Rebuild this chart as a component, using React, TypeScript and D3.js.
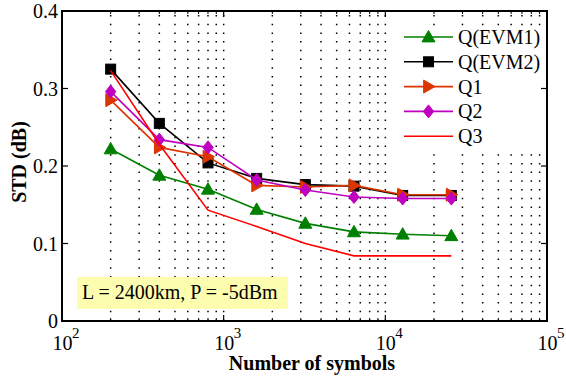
import React from "react";
import * as d3 from "d3";

const xValues = [200, 400, 800, 1600, 3200, 6400, 12800, 25600];
const evm1 = [0.222, 0.188, 0.170, 0.144, 0.126, 0.115, 0.112, 0.110];
const evm2 = [0.325, 0.255, 0.204, 0.184, 0.176, 0.174, 0.162, 0.162];
const q1 = [0.285, 0.224, 0.212, 0.175, 0.173, 0.175, 0.163, 0.163];
const q2 = [0.296, 0.234, 0.224, 0.182, 0.169, 0.160, 0.158, 0.158];
const q3 = [0.323, 0.228, 0.143, 0.122, 0.100, 0.084, 0.084, 0.084];

const seriesNames = ["Q(EVM1)", "Q(EVM2)", "Q1", "Q2", "Q3"];
const yTicks = [0, 0.1, 0.2, 0.3, 0.4];
const yTickLabels = ["0", "0.1", "0.2", "0.3", "0.4"];
const xDecades = [100, 1000, 10000, 100000];
const xDecadeExp = ["2", "3", "4", "5"];
const annotation = "L = 2400km, P = -5dBm";
const xLabel = "Number of symbols";
const yLabel = "STD (dB)";

const FONT = "Liberation Serif, Times New Roman, serif";
const TS: React.CSSProperties = { fontFamily: FONT };

type Series = { name: string; values: number[]; color: string; marker: string };

const series: Series[] = [
  { name: seriesNames[0], values: evm1, color: "#008000", marker: "triUp" },
  { name: seriesNames[1], values: evm2, color: "#000000", marker: "square" },
  { name: seriesNames[2], values: q1, color: "#dd3500", marker: "triRight" },
  { name: seriesNames[3], values: q2, color: "#c000c0", marker: "diamond" },
  { name: seriesNames[4], values: q3, color: "#ff0000", marker: "none" },
];

function Marker({ kind, x, y, color }: { kind: string; x: number; y: number; color: string }) {
  if (kind === "triUp") {
    const s = 6.5;
    return <path d={`M${x},${y - s} L${x + s},${y + s * 0.75} L${x - s},${y + s * 0.75} Z`} fill={color} stroke={color} strokeWidth={1} />;
  }
  if (kind === "triRight") {
    const s = 6.5;
    return <path d={`M${x + s},${y} L${x - s * 0.75},${y + s} L${x - s * 0.75},${y - s} Z`} fill={color} stroke={color} strokeWidth={1} />;
  }
  if (kind === "square") {
    const s = 5;
    return <rect x={x - s} y={y - s} width={2 * s} height={2 * s} fill={color} stroke={color} strokeWidth={1} />;
  }
  if (kind === "diamond") {
    const s = 6.5;
    return <path d={`M${x},${y - s} L${x + s * 0.8},${y} L${x},${y + s} L${x - s * 0.8},${y} Z`} fill={color} stroke={color} strokeWidth={1} />;
  }
  return null;
}

export default function App() {
  const W = 566;
  const H = 377;
  const left = 62, right = 547, top = 11, bottom = 321;
  const x = d3.scaleLog().domain([100, 100000]).range([left, right]);
  const y = d3.scaleLinear().domain([0, 0.4]).range([bottom, top]);

  const minor: number[] = [];
  for (let d = 0; d < 3; d++) {
    for (let k = 2; k <= 9; k++) minor.push(xDecades[d] * k);
  }
  const gridXs = [...minor, 1000, 10000];

  const line = d3
    .line<number>()
    .x((_, i) => x(xValues[i]))
    .y((v) => y(v));

  const legX0 = 404, legX1 = 453, legTextX = 458;
  const legY = (i: number) => 37 + i * 24.8;

  return (
    <svg
      width={W}
      height={H}
      style={{ position: "absolute", left: 0, top: 0, background: "#fff", fontFamily: FONT }}
    >
      <rect x={0} y={0} width={W} height={H} fill="#fff" />
      {gridXs.map((gx, i) => (
        <line
          key={"g" + i}
          x1={x(gx)}
          x2={x(gx)}
          y1={bottom}
          y2={top}
          stroke="#000"
          strokeWidth={1.5}
          strokeDasharray="1.5 7.2"
        />
      ))}
      <rect x={77} y={277} width={211} height={32} fill="#fdfdb0" />
      <text x={82} y={299} fontSize={20} fill="#000" style={TS}>
        {annotation}
      </text>
      <rect x={398} y={26} width={148} height={126} fill="#fff" />
      {series.map((s) => (
        <g key={s.name}>
          <path d={line(s.values) || ""} fill="none" stroke={s.color} strokeWidth={1.6} />
          {s.values.map((v, i) => (
            <Marker key={i} kind={s.marker} x={x(xValues[i])} y={y(v)} color={s.color} />
          ))}
        </g>
      ))}
      {series.map((s, i) => (
        <g key={"l" + s.name}>
          <line x1={legX0} x2={legX1} y1={legY(i)} y2={legY(i)} stroke={s.color} strokeWidth={1.6} />
          <Marker kind={s.marker} x={(legX0 + legX1) / 2} y={legY(i)} color={s.color} />
          <text x={legTextX} y={legY(i) + 7} fontSize={20} fill="#000" style={TS}>
            {s.name}
          </text>
        </g>
      ))}
      {yTicks.map((t, i) => (
        <g key={"yt" + i}>
          <line x1={left} x2={left + 6} y1={y(t)} y2={y(t)} stroke="#000" strokeWidth={1.2} />
          <line x1={right} x2={right - 6} y1={y(t)} y2={y(t)} stroke="#000" strokeWidth={1.2} />
          <text x={58} y={y(t) + 7} fontSize={20} textAnchor="end" fill="#000" style={TS}>
            {yTickLabels[i]}
          </text>
        </g>
      ))}
      {minor.map((m, i) => (
        <g key={"xm" + i}>
          <line x1={x(m)} x2={x(m)} y1={bottom} y2={bottom - 3} stroke="#000" strokeWidth={1} />
          <line x1={x(m)} x2={x(m)} y1={top} y2={top + 3} stroke="#000" strokeWidth={1} />
        </g>
      ))}
      {xDecades.map((d, i) => (
        <g key={"xd" + i}>
          <line x1={x(d)} x2={x(d)} y1={bottom} y2={bottom - 6} stroke="#000" strokeWidth={1.2} />
          <line x1={x(d)} x2={x(d)} y1={top} y2={top + 6} stroke="#000" strokeWidth={1.2} />
          <text x={x(d) - 9.5} y={350} fontSize={20} fill="#000" style={TS}>
            10
          </text>
          <text x={x(d) + 10} y={338} fontSize={15} fill="#000" style={TS}>
            {xDecadeExp[i]}
          </text>
        </g>
      ))}
      <rect x={left} y={top} width={right - left} height={bottom - top} fill="none" stroke="#000" strokeWidth={2} />
      <text x={312} y={370} fontSize={20} fontWeight="bold" textAnchor="middle" fill="#000" style={TS}>
        {xLabel}
      </text>
      <text
        transform="translate(26,162) rotate(-90)"
        fontSize={20}
        fontWeight="bold"
        textAnchor="middle"
        fill="#000"
        style={TS}
      >
        {yLabel}
      </text>
    </svg>
  );
}
